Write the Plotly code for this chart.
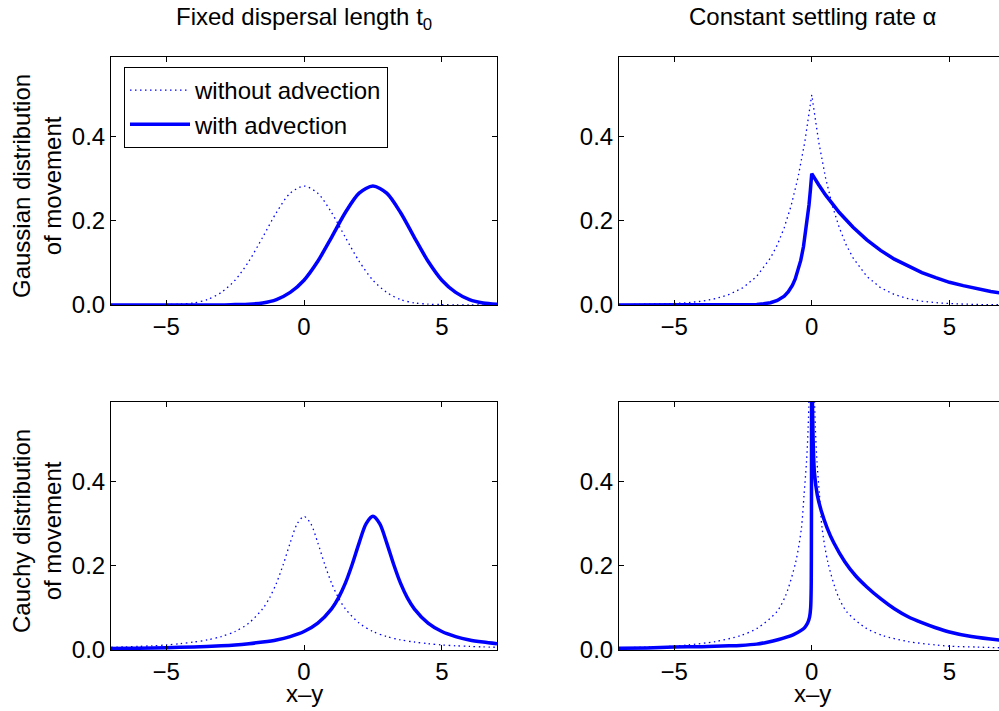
import plotly.graph_objects as go

# ---------------- data ----------------
# Top-left: Gaussian movement, fixed dispersal length
tl_x = [-7, -6.5, -6, -5.5, -5, -4.5, -4, -3.5, -3, -2.5, -2, -1.5, -1, -0.5, 0,
        0.5, 1, 1.5, 2, 2.5, 3, 3.5, 4, 4.5, 5, 5.5, 6, 6.5, 7]
tl_without = [0, 0, 0, 0, 0.001, 0.002, 0.005, 0.013, 0.030, 0.059, 0.104, 0.161, 0.220, 0.266, 0.283,
              0.266, 0.220, 0.161, 0.104, 0.059, 0.030, 0.013, 0.005, 0.002, 0.001, 0, 0, 0, 0]
tl_with = [0, 0, 0, 0, 0, 0, 0, 0, 0, 0.001, 0.002, 0.005, 0.013, 0.030, 0.059,
           0.104, 0.161, 0.220, 0.266, 0.283, 0.266, 0.220, 0.161, 0.104, 0.059, 0.030, 0.013, 0.005, 0.002]

# Top-right: Gaussian movement, constant settling rate
tr_x_without = [-7, -6, -5, -4.5, -4, -3.5, -3, -2.5, -2, -1.5, -1.25, -1, -0.75, -0.5, -0.25, 0,
                0.25, 0.5, 0.75, 1, 1.25, 1.5, 2, 2.5, 3, 3.5, 4, 4.5, 5, 6, 7]
tr_without = [0.0005, 0.0012, 0.0034, 0.0056, 0.009, 0.015, 0.025, 0.041, 0.068, 0.112, 0.143, 0.184, 0.236, 0.303, 0.389, 0.5,
              0.389, 0.303, 0.236, 0.184, 0.143, 0.112, 0.068, 0.041, 0.025, 0.015, 0.009, 0.0056, 0.0034, 0.0012, 0.0005]
tr_x_with = [-7, -5, -4, -3, -2.5, -2, -1.75, -1.5, -1.25, -1, -0.85, -0.7, -0.6, -0.5, -0.4, -0.3, -0.2, -0.1, -0.05, 0,
             0.25, 0.5, 1, 1.5, 2, 2.5, 3, 3.5, 4, 4.5, 5, 5.5, 6, 6.5, 7]
tr_with = [0, 0, 0, 0.0001, 0.0004, 0.0014, 0.0028, 0.0055, 0.0107, 0.021, 0.0315, 0.047, 0.062, 0.081, 0.106, 0.139, 0.182, 0.238, 0.273, 0.3125,
           0.286, 0.262, 0.220, 0.185, 0.155, 0.130, 0.109, 0.092, 0.077, 0.065, 0.054, 0.046, 0.038, 0.032, 0.027]

# Bottom-left: Cauchy movement, fixed dispersal length
bl_x_without = [-7, -6.5, -6, -5.5, -5, -4.5, -4, -3.5, -3, -2.5, -2, -1.5, -1.25, -1, -0.75, -0.5, -0.25, 0,
                0.25, 0.5, 0.75, 1, 1.25, 1.5, 2, 2.5, 3, 3.5, 4, 4.5, 5, 5.5, 6, 6.5, 7]
bl_without = [0.0064, 0.0074, 0.0086, 0.010, 0.012, 0.015, 0.019, 0.024, 0.032, 0.044, 0.064, 0.098, 0.124, 0.159, 0.204, 0.255, 0.300, 0.318,
              0.300, 0.255, 0.204, 0.159, 0.124, 0.098, 0.064, 0.044, 0.032, 0.024, 0.019, 0.015, 0.012, 0.010, 0.0086, 0.0074, 0.0064]
bl_x_with = [-7, -6, -5, -4, -3, -2.5, -2, -1.5, -1, -0.5, 0, 0.5, 1, 1.25, 1.5, 1.75, 2, 2.25, 2.5,
             2.75, 3, 3.25, 3.5, 3.75, 4, 4.5, 5, 5.5, 6, 6.5, 7]
bl_with = [0.0035, 0.0044, 0.0056, 0.0074, 0.010, 0.012, 0.015, 0.019, 0.024, 0.032, 0.044, 0.064, 0.098, 0.124, 0.159, 0.204, 0.255, 0.300, 0.318,
           0.300, 0.255, 0.204, 0.159, 0.124, 0.098, 0.064, 0.044, 0.032, 0.024, 0.019, 0.015]

# Bottom-right: Cauchy movement, constant settling rate
br_x_without = [-7, -6, -5, -4.5, -3.5, -2.6, -1.97, -1.27, -0.94, -0.58, -0.375, -0.28, -0.19, -0.13, -0.05, 0,
                0.05, 0.13, 0.19, 0.28, 0.375, 0.58, 0.94, 1.27, 1.97, 2.6, 3.5, 4.5, 5, 6, 7]
br_without = [0.005, 0.007, 0.009, 0.012, 0.020, 0.034, 0.052, 0.091, 0.131, 0.21, 0.29, 0.369, 0.448, 0.53, 0.75, 1.5,
              0.75, 0.53, 0.448, 0.369, 0.29, 0.21, 0.131, 0.091, 0.052, 0.034, 0.020, 0.012, 0.009, 0.007, 0.005]
br_x_with = [-7, -6, -5, -4, -3, -2.6, -2, -1.65, -1.2, -0.68, -0.4, -0.25, -0.15, -0.08, -0.04, -0.02, 0,
             0.02, 0.05, 0.1, 0.2, 0.35, 0.56, 0.8, 1.2, 1.6, 2.0, 2.5, 3.0, 3.5, 4.0, 4.5, 5.0, 5.8, 6.8, 7]
br_with = [0.004, 0.005, 0.007, 0.008, 0.010, 0.011, 0.014, 0.018, 0.025, 0.036, 0.046, 0.054, 0.064, 0.078, 0.10, 0.15, 0.9,
           0.62, 0.50, 0.42, 0.369, 0.33, 0.29, 0.255, 0.21, 0.176, 0.150, 0.122, 0.098, 0.079, 0.065, 0.053, 0.043, 0.032, 0.024, 0.023]

series_names = ["without advection", "with advection"]
col_titles = ["Fixed dispersal length t<sub>0</sub>", "Constant settling rate α"]
row_titles = ["Gaussian distribution<br>of movement", "Cauchy distribution<br>of movement"]
x_title = "x–y"
y_tickvals = [0, 0.2, 0.4]
y_ticktext = ["0.0", "0.2", "0.4"]
x_tickvals = [-5, 0, 5]

# ---------------- figure ----------------
BLUE = "rgb(0,0,255)"
FONT = "Liberation Sans, Arial, Helvetica, sans-serif"
FS = 24

fig = go.Figure()

panels = [
    ("x", "y", tl_x, tl_without, tl_x, tl_with, "spline", "spline"),
    ("x2", "y2", tr_x_without, tr_without, tr_x_with, tr_with, "linear", "linear"),
    ("x3", "y3", bl_x_without, bl_without, bl_x_with, bl_with, "spline", "spline"),
    ("x4", "y4", br_x_without, br_without, br_x_with, br_with, "spline", "spline"),
]

for i, (xa, ya, xw, yw, xv, yv, shape_w, shape_v) in enumerate(panels):
    fig.add_trace(go.Scatter(
        x=xw, y=yw, xaxis=xa, yaxis=ya, mode="lines", name=series_names[0],
        line=dict(color=BLUE, width=1.3, dash="1.5px,3.5px", shape=shape_w, smoothing=0.8),
        showlegend=(i == 0)))
    fig.add_trace(go.Scatter(
        x=xv, y=yv, xaxis=xa, yaxis=ya, mode="lines", name=series_names[1],
        line=dict(color=BLUE, width=3.5, shape=shape_v, smoothing=0.8),
        showlegend=(i == 0)))

W, H = 999, 711
left_dom = [111 / W, 497 / W]
right_dom = [619 / W, 1.0]
top_dom = [(H - 305) / H, (H - 57) / H]
bot_dom = [(H - 650) / H, (H - 402) / H]

def xax(domain, anchor, rng):
    return dict(domain=domain, anchor=anchor, range=rng, tickvals=x_tickvals,
                ticks="inside", ticklen=5, tickwidth=1, tickcolor="black",
                showline=True, linecolor="black", linewidth=1, mirror="ticks",
                showgrid=False, zeroline=False, automargin=False,
                tickfont=dict(family=FONT, size=FS, color="black"))

def yax(domain, anchor, mirror):
    return dict(domain=domain, anchor=anchor, range=[0, 0.59], tickvals=y_tickvals,
                ticktext=y_ticktext,
                ticks="inside", ticklen=5, tickwidth=1, tickcolor="black",
                showline=True, linecolor="black", linewidth=1, mirror=mirror,
                showgrid=False, zeroline=False, automargin=False,
                tickfont=dict(family=FONT, size=FS, color="black"))

fig.update_layout(
    template="none",
    width=W, height=H,
    margin=dict(l=0, r=0, t=0, b=0, pad=0, autoexpand=False),
    paper_bgcolor="white", plot_bgcolor="white",
    font=dict(family=FONT, size=FS, color="black"),
    xaxis=xax(left_dom, "y", [-7, 7]),
    yaxis=yax(top_dom, "x", "ticks"),
    xaxis2=xax(right_dom, "y2", [-7, 6.8]),
    yaxis2=yax(top_dom, "x2", False),
    xaxis3=xax(left_dom, "y3", [-7, 7]),
    yaxis3=yax(bot_dom, "x3", "ticks"),
    xaxis4=xax(right_dom, "y4", [-7, 6.8]),
    yaxis4=yax(bot_dom, "x4", False),
    legend=dict(x=124 / W, y=1 - 67 / H, xanchor="left", yanchor="top",
                bgcolor="white", bordercolor="black", borderwidth=1,
                font=dict(family=FONT, size=FS, color="black"),
                tracegroupgap=0, itemwidth=60),
    showlegend=True,
)

annotations = []
for cx, t in zip([304, 812], col_titles):
    annotations.append(dict(text=t, x=cx / W, y=1 - 1 / H, xref="paper", yref="paper",
                            xanchor="center", yanchor="top", showarrow=False,
                            font=dict(family=FONT, size=FS, color="black")))
for cy, t in zip([186, 531], row_titles):
    annotations.append(dict(text=t, x=37 / W, y=1 - cy / H, xref="paper", yref="paper",
                            xanchor="center", yanchor="middle", textangle=-90, showarrow=False,
                            font=dict(family=FONT, size=FS, color="black")))
for cx in [304, 812]:
    annotations.append(dict(text=x_title, x=cx / W, y=1 - 693 / H, xref="paper", yref="paper",
                            xanchor="center", yanchor="middle", showarrow=False,
                            font=dict(family=FONT, size=FS, color="black")))
fig.update_layout(annotations=annotations)

fig.write_html("out.html", config={"displayModeBar": False},
               post_script="document.body.style.margin='0';")
